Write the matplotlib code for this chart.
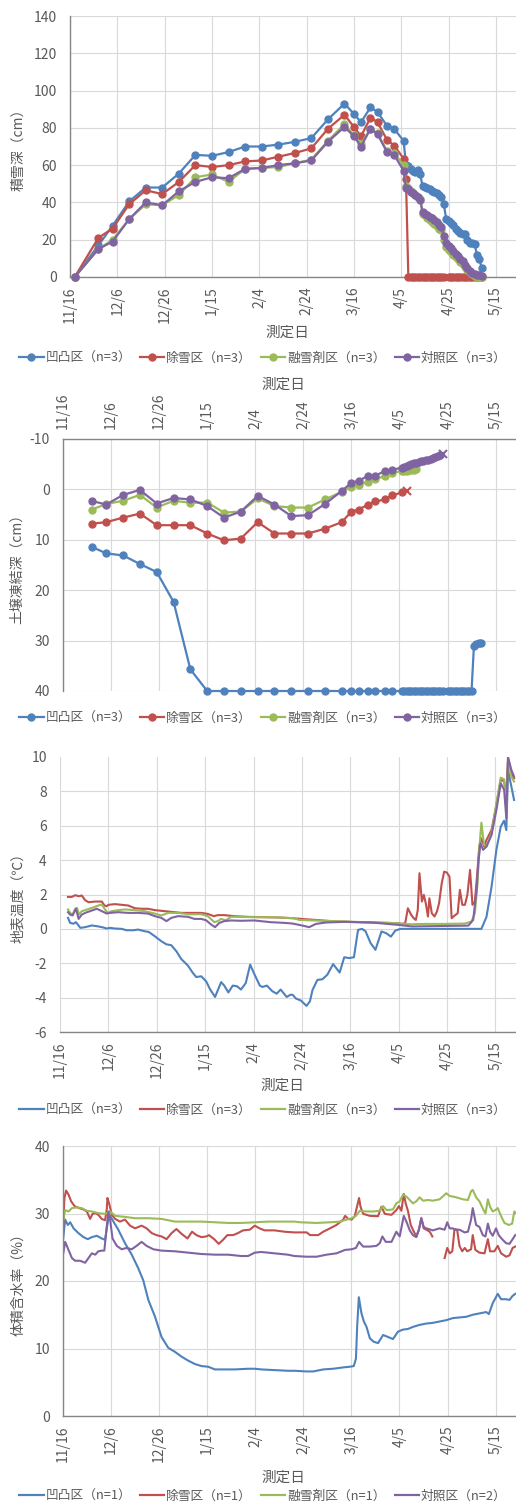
import datetime as dt
import numpy as np
import matplotlib.pyplot as plt
from matplotlib.lines import Line2D

plt.rcParams['font.family'] = ['Noto Sans CJK JP', 'DejaVu Sans']
plt.rcParams['axes.unicode_minus'] = False

# x軸は 11/16 からの経過日数
start = dt.date(2017, 11, 16)
tick_days = [0, 20, 40, 60, 80, 100, 120, 140, 160, 180]
tick_labels = [f"{d.month}/{d.day}" for d in (start + dt.timedelta(days=t) for t in tick_days)]

labels3 = ['凹凸区（n=3）', '除雪区（n=3）', '融雪剤区（n=3）', '対照区（n=3）']
labels4 = ['凹凸区（n=1）', '除雪区（n=1）', '融雪剤区（n=1）', '対照区（n=2）']
colors = ['#4F81BD', '#C0504D', '#9BBB59', '#8064A2']

# ---- 積雪深 ----
weekly_days = [2, 12, 18, 25, 32, 39, 46, 53, 60, 67, 74, 81, 88, 95, 102,
               109, 116, 120, 123, 127, 130, 134, 137, 141]
daily_days = list(range(142, 175))
snow_days = weekly_days + daily_days

snow_ototsu = [0, 17, 27.5, 40.5, 48, 48, 55.5, 65.5, 65, 67, 70, 70, 71, 72.5, 74.5,
               84.5, 93, 87.5, 83, 91, 88.5, 81, 79.5, 73,
               60, 59.5, 58, 57, 56.5, 57.5, 55, 49, 48.5, 48, 47, 46, 45.5, 45, 44, 43,
               39, 31, 30, 29, 28, 26, 24.5, 23.5, 23, 23, 20, 18.5, 18, 17.5, 12, 9.5, 5]
snow_josetsu = [0, 21, 26, 39, 46.5, 44.5, 51, 60, 59, 60, 62, 62.5, 64.5, 66.5, 69,
                79.5, 87, 80.5, 75.5, 85.5, 83, 73.5, 70.5, 63.5,
                52.5] + [0] * 16 + [np.nan] + [0] * 15
snow_yusetsuzai = [0, 15, 20, 31, 39, 38.5, 44, 53.5, 55, 51, 58, 58.5, 59, 61, 63,
                   73, 82, 76, 71.5, 79.5, 77, 67.5, 66.5, 60,
                   49, 48, 46, 45, 44, 43, 42, 34, 33, 31.5, 30.5, 29.5, 28.5, 27.5, 26, 25,
                   20, 16, 14.5, 13.5, 12, 10.5, 9.5, 8, 7, 5.5, 4, 2.5, 1.5, 0.5, 0, 0, 0]
snow_taisho = [0, 15, 19, 31, 40, 38.5, 46, 51, 53.5, 53, 58, 58.5, 60, 61, 62.5,
               72.5, 80.5, 75.5, 70, 79.5, 76.5, 67, 65.5, 57,
               48, 47, 45.5, 45, 44, 43, 41.5, 35, 34, 33, 32, 31.5, 30.5, 29.5, 28, 27,
               22, 18, 16.5, 15.5, 14, 12.5, 11, 9.5, 8.5, 6.5, 5, 3, 2, 1.5, 1, 1, 0.5]

# ---- 土壌凍結深 (最後の点は×) ----
frost_days = weekly_days[1:]
frost_ototsu = [11.4, 12.7, 13.1, 14.8, 16.4, 22.3, 35.7] + [40] * 16 + \
               [40] * 17 + [np.nan] + [40] * 11 + [31.0, 30.6, 30.4, 30.4]
frost_josetsu = [6.8, 6.5, 5.6, 4.8, 7.1, 7.1, 7.1, 8.75, 10.1, 9.75, 6.5, 8.75, 8.75, 8.75,
                 7.8, 6.5, 4.4, 4.0, 3.0, 2.4, 2.0, 1.2, 0.6]
frost_josetsu_end = (143, 0.3)
frost_yusetsuzai = [4.0, 2.9, 2.25, 1.1, 3.6, 2.25, 2.65, 2.6, 4.6, 4.4, 1.8, 3.3, 3.6, 3.6,
                    2.0, 0.5, -0.5, -0.9, -1.5, -2.0, -2.7, -3.3, -3.6,
                    -3.7, -3.7, -3.8, -3.8, -3.9, -4.0]
frost_taisho = [2.3, 3.0, 1.1, 0.1, 2.8, 1.7, 2.0, 3.3, 5.6, 4.4, 1.3, 3.0, 5.3, 5.1,
                2.9, 0.3, -1.3, -1.7, -2.7, -2.7, -3.7, -3.9, -4.3,
                -4.5, -4.7, -4.9, -5.0, -5.2, -5.3, -5.4, -5.6, -5.7, -5.8, -5.9, -6.0,
                -6.2, -6.4, -6.7, -6.9]
frost_taisho_end = (158, -7.1)

# ---- 地表温度 (日, ℃) ----
temp_ototsu = [(3.3, 0.64), (4.2, 0.35), (5.6, 0.3), (6.6, 0.39), (8.4, 0.06), (10.4, 0.1),
               (13.2, 0.2), (15.9, 0.14), (17.9, 0.08), (19.3, 0.02), (20.7, 0.06), (22.7, 0.02),
               (25.5, 0), (27.5, -0.08), (30.3, -0.08), (32.3, -0.04), (35.1, -0.14), (36.7, -0.18),
               (39.2, -0.43), (41.9, -0.72), (44, -0.9), (46, -0.95), (48.1, -1.3), (50.1, -1.75),
               (52.9, -2.14), (54.9, -2.56), (56.3, -2.8), (58.4, -2.76), (60.4, -3.05),
               (62.1, -3.53), (64.1, -3.96), (66.6, -3.1), (67.9, -3.3), (69.6, -3.7),
               (71.4, -3.3), (73.2, -3.34), (74.8, -3.53), (76.8, -3.15), (78.6, -2.08),
               (80.3, -2.62), (82.6, -3.3), (83.7, -3.38), (85.5, -3.3), (87.8, -3.63),
               (89.6, -3.77), (91.2, -3.53), (93.7, -3.96), (95.3, -3.83), (96.2, -3.84),
               (97.5, -4.05), (99.6, -4.17), (101.9, -4.48), (103.3, -4.22), (104.4, -3.55),
               (106.4, -2.97), (108.5, -2.93), (110.5, -2.67), (112.9, -2.05), (115.6, -2.54),
               (117.5, -1.65), (119.5, -1.7), (121.5, -1.65), (123.2, -0.06), (124.9, 0),
               (126.3, -0.14), (128.4, -0.83), (130.4, -1.22), (132.9, -0.15), (134.8, -0.25),
               (136.8, -0.45), (138.6, -0.1), (140.7, 0), (174.2, 0), (176.3, 0.7),
               (178.4, 2.46), (180.4, 4.6), (182.2, 5.95), (183.6, 6.3), (184.5, 5.75),
               (185.2, 9.24), (186.6, 8.27), (187.7, 7.5)]
temp_josetsu = [(3.3, 1.86), (4.9, 1.86), (6.3, 1.96), (7.7, 1.9), (9.0, 1.94), (10.4, 1.67),
                (11.8, 1.55), (14.5, 1.59), (17.3, 1.59), (18.4, 1.36), (19.3, 1.32), (20, 1.4),
                (22.7, 1.44), (25.5, 1.4), (28.2, 1.36), (31, 1.2), (33.7, 1.17), (36.4, 1.17),
                (39.2, 1.09), (41.9, 1.05), (44.7, 1.01), (47.4, 0.97), (50.1, 0.93), (55.6, 0.93),
                (58.4, 0.93), (61.1, 0.87), (63.6, 0.74), (65.2, 0.8), (67.9, 0.8), (72.1, 0.74),
                (77.5, 0.7), (90.7, 0.66), (96.2, 0.62), (101.6, 0.56), (105.8, 0.52),
                (112, 0.45), (120, 0.4), (130, 0.37), (140, 0.33), (141.4, 0.29), (142.7, 0.33),
                (143.8, 1.2), (145.2, 0.81), (146.2, 0.62), (147.1, 0.52), (147.9, 1.1),
                (148.6, 3.24), (149.6, 1.59), (150.4, 1.98), (151.2, 1.49), (152.1, 0.72),
                (152.7, 1.78), (153.7, 0.91), (154.8, 0.72), (155.8, 1.0), (156.7, 1.49),
                (157.8, 2.65), (158.8, 3.33), (159.9, 3.28), (161, 3.04), (161.9, 0.62),
                (163, 0.76), (164.4, 0.91), (165.3, 2.27), (166.3, 1.4), (167.4, 1.4),
                (168.4, 1.98), (169.5, 3.43), (170.5, 1.4), (171.5, 1.59), (172.5, 3.24),
                (173.3, 4.79), (174.2, 5.27), (175.3, 4.79), (176.3, 5.17), (178.4, 5.76),
                (180.4, 7.2), (182.2, 8.7), (183.6, 8.57), (184.5, 7.69), (185.2, 9.92),
                (186.6, 9.05), (187.7, 8.76)]
temp_yusetsuzai = [(3.3, 1.13), (4.2, 0.93), (5.2, 0.83), (6.3, 1.17), (7.0, 1.22), (7.9, 0.83),
                   (9.0, 1.03), (10.4, 1.09), (13.2, 1.22), (15.9, 1.36), (17.3, 1.42),
                   (18.6, 1.13), (19.7, 0.93), (21.4, 1.03), (24.1, 1.09), (26.8, 1.13),
                   (31, 1.09), (35.1, 1.03), (39.2, 0.89), (41.9, 0.78), (44.7, 0.93),
                   (48.8, 0.93), (52.9, 0.85), (58.4, 0.85), (61.1, 0.74), (63.8, 0.39),
                   (65.2, 0.45), (66.6, 0.58), (68.6, 0.5), (70.7, 0.7), (74.8, 0.7),
                   (80.3, 0.68), (88.5, 0.68), (96.7, 0.62), (98.9, 0.52), (107.1, 0.48),
                   (118.1, 0.43), (129, 0.37), (140, 0.33), (141.4, 0.29), (145.5, 0.27),
                   (151, 0.29), (159.2, 0.29), (167.4, 0.31), (170.1, 0.43), (171.5, 0.91),
                   (172.6, 2.65), (173.3, 4.6), (174.2, 6.18), (175.3, 4.88), (176.3, 4.79),
                   (178.4, 5.56), (180.4, 7.3), (182.2, 8.8), (183.6, 8.7), (184.5, 6.9),
                   (185.2, 9.73), (186.6, 8.86), (187.7, 8.57)]
temp_taisho = [(3.3, 0.97), (4.2, 0.83), (5.2, 0.78), (6.6, 1.17), (7.7, 0.58), (9.0, 0.83),
               (10.4, 0.93), (13.2, 1.07), (15.2, 1.17), (17.3, 1.03), (19.3, 0.89),
               (20.7, 0.93), (24.1, 0.97), (28.2, 0.93), (32.3, 0.93), (36.4, 0.89),
               (39.2, 0.74), (41.9, 0.64), (44, 0.45), (46, 0.64), (48.8, 0.74), (52.9, 0.7),
               (55.6, 0.58), (58.4, 0.58), (60.4, 0.5), (62.5, 0.25), (64.1, 0.1), (65.9, 0.35),
               (67.9, 0.45), (70.7, 0.49), (74.8, 0.47), (80.3, 0.49), (83, 0.45), (87.1, 0.39),
               (92.6, 0.35), (96.2, 0.31), (100.3, 0.19), (103, 0.1), (105.8, 0.29),
               (109.9, 0.37), (118.1, 0.41), (129, 0.37), (140, 0.23), (145.5, 0.14),
               (159.2, 0.17), (168.8, 0.19), (170.8, 0.52), (172.2, 2.27), (172.9, 3.82),
               (173.8, 4.98), (174.9, 4.6), (176.3, 4.79), (178.4, 5.47), (180.4, 6.92),
               (182.2, 8.47), (183.6, 8.08), (184.5, 6.43), (185.2, 10.0), (186.6, 9.24),
               (187.7, 8.86)]

# ---- 体積含水率 (日, %) ----
vwc_ototsu = [(0, 26.0), (0.9, 29.1), (2.0, 28.3), (3.0, 28.7), (4.4, 27.8), (6.4, 27.1),
              (8.5, 26.5), (10.3, 26.2), (12.0, 26.5), (14.1, 26.7), (16.1, 26.3), (17.5, 26.1),
              (18.9, 29.3), (19.6, 29.65), (21.0, 28.8), (23.0, 27.6), (25.8, 25.6), (28.6, 23.9),
              (31.3, 21.9), (33.4, 20.1), (35.5, 17.2), (38.3, 14.7), (41.0, 11.7), (43.8, 10.1),
              (46.6, 9.5), (49.3, 8.8), (52.1, 8.2), (54.9, 7.7), (57.6, 7.4), (60.4, 7.3),
              (63.2, 6.9), (65.9, 6.9), (71.5, 6.9), (77.0, 7.0), (79.8, 7.0), (82.5, 6.9),
              (88.0, 6.8), (93.6, 6.7), (96.3, 6.7), (101.4, 6.6), (104.1, 6.6), (108.3, 6.9),
              (112.4, 7.0), (116.6, 7.2), (119.4, 7.3), (121.0, 7.4), (121.9, 8.5),
              (122.4, 13.2), (123.1, 17.6), (124.2, 15.2), (125.2, 14.0), (126.3, 13.2),
              (127.7, 11.5), (129.3, 11.0), (131.1, 10.8), (133.2, 12.0), (135.3, 11.7),
              (137.3, 11.4), (139.4, 12.5), (141.5, 12.8), (143.6, 12.9), (145.6, 13.2),
              (148.4, 13.5), (151.2, 13.7), (153.9, 13.8), (156.7, 14.0), (159.5, 14.2),
              (162.2, 14.5), (165.0, 14.6), (167.8, 14.7), (170.5, 15.0), (173.3, 15.2),
              (176.1, 15.4), (177.2, 15.1), (178.8, 16.7), (180.9, 18.1), (182.3, 17.3),
              (184.4, 17.3), (185.8, 17.2), (187.1, 17.8), (188.2, 18.1)]
vwc_josetsu = [(0, 27.6), (0.6, 32.3), (1.3, 33.4), (2.3, 32.8), (3.4, 31.8), (4.8, 31.1),
               (6.7, 30.8), (8.5, 30.6), (9.9, 30.3), (11.3, 29.2), (12.3, 29.95), (13.6, 30.05),
               (14.7, 29.8), (16.1, 29.2), (17.5, 29.0), (18.2, 30.6), (18.5, 32.3), (19.2, 31.5),
               (20.3, 29.8), (21.7, 29.2), (23.7, 28.8), (25.8, 29.1), (27.9, 28.2), (30.0, 27.8),
               (32.7, 28.2), (34.8, 27.8), (36.9, 27.1), (38.9, 26.8), (41.0, 26.6), (43.1, 26.2),
               (45.2, 27.1), (47.2, 27.7), (49.3, 27.0), (51.8, 26.3), (53.7, 27.3), (55.5, 26.8),
               (57.6, 26.5), (59.7, 26.6), (60.7, 26.8), (62.9, 26.2), (64.8, 25.5), (66.6, 26.1),
               (68.4, 26.8), (70.8, 26.8), (72.8, 27.1), (74.9, 27.5), (77.7, 27.6), (79.8, 28.2),
               (81.8, 27.8), (83.9, 27.5), (88.0, 27.5), (92.2, 27.3), (96.3, 27.2),
               (101.4, 27.2), (102.8, 26.8), (106.2, 26.8), (108.3, 27.3), (111.1, 27.8),
               (113.8, 28.3), (116.6, 29.1), (117.4, 29.65), (118.7, 29.2), (120.1, 29.1),
               (121.4, 29.6), (122.4, 31.1), (123.2, 32.3), (123.8, 31.0), (124.9, 29.95),
               (127.7, 29.65), (131.1, 29.6), (132.5, 31.0), (133.9, 29.95), (136.7, 29.8),
               (138.7, 30.5), (139.8, 31.1), (140.8, 30.4), (141.8, 32.9), (142.6, 31.5),
               (143.6, 30.3), (144.7, 28.3), (145.6, 27.6), (147.0, 26.6), (148.1, 27.6),
               (149.1, 29.3), (150.1, 27.8), (151.2, 27.6), (152.6, 27.3), (153.7, 26.6),
               (156.0, np.nan),
               (158.8, 23.4), (159.9, 24.9), (160.9, 24.1), (162.0, 24.4), (162.9, 27.7),
               (164.0, 27.6), (165.0, 25.2), (166.1, 24.4), (167.2, 24.9), (168.2, 24.4),
               (169.8, 24.7), (170.5, 26.8), (171.6, 24.6), (173.3, 24.2), (175.4, 24.1),
               (176.8, 26.2), (177.7, 24.4), (179.5, 24.4), (180.9, 25.2), (182.3, 24.1),
               (184.4, 23.6), (185.8, 23.8), (187.1, 24.9), (188.2, 25.1)]
vwc_yusetsuzai = [(0, 28.8), (0.9, 30.5), (2.3, 30.3), (3.7, 30.8), (5.8, 30.9), (7.8, 30.8),
                  (9.9, 30.4), (12.0, 30.3), (14.7, 30.05), (17.5, 29.95), (19.6, 30.3),
                  (21.7, 29.65), (25.8, 29.5), (30.0, 29.3), (35.5, 29.3), (41.0, 29.2),
                  (46.6, 28.8), (52.1, 28.8), (57.6, 28.8), (63.2, 28.7), (68.7, 28.6),
                  (74.2, 28.6), (79.8, 28.7), (85.3, 28.8), (96.3, 28.8), (98.6, 28.7),
                  (105.5, 28.6), (111.1, 28.7), (115.2, 28.8), (118.0, 29.1), (120.1, 29.3),
                  (121.9, 29.65), (123.5, 30.4), (126.3, 30.3), (129.0, 30.3), (131.8, 30.4),
                  (133.2, 31.1), (134.6, 30.5), (137.3, 30.6), (138.7, 31.5), (140.1, 31.8),
                  (141.5, 32.8), (142.9, 32.5), (144.3, 32.0), (145.6, 31.5), (147.0, 31.8),
                  (148.4, 32.4), (149.8, 31.9), (151.9, 32.0), (153.9, 31.9), (156.7, 32.1),
                  (159.5, 33.0), (160.9, 32.6), (163.6, 32.4), (166.4, 32.1), (168.5, 32.0),
                  (169.8, 33.3), (170.5, 33.5), (171.9, 32.4), (173.3, 31.8), (175.0, 30.5),
                  (175.8, 30.0), (176.8, 32.1), (177.7, 31.0), (178.8, 30.3), (179.9, 30.5),
                  (180.9, 30.8), (182.3, 29.6), (183.7, 28.6), (185.5, 28.3), (186.9, 28.5),
                  (187.8, 30.3), (188.2, 30.1)]
vwc_taisho = [(0, 23.9), (0.9, 25.8), (2.3, 24.6), (3.7, 23.4), (5.0, 23.0), (7.1, 23.0),
              (9.2, 22.7), (10.6, 23.4), (12.0, 24.1), (13.4, 23.9), (14.7, 24.4), (16.1, 24.5),
              (17.2, 24.5), (18.2, 28.1), (18.9, 30.3), (19.6, 29.1), (20.6, 26.3), (22.4, 25.2),
              (24.4, 24.7), (26.5, 24.9), (28.6, 24.7), (30.6, 25.2), (32.7, 25.8), (34.8, 25.2),
              (37.6, 24.7), (41.0, 24.5), (46.6, 24.4), (52.1, 24.2), (57.6, 24.0), (63.2, 23.9),
              (68.7, 23.9), (74.2, 23.7), (77.0, 23.7), (79.8, 24.2), (82.5, 24.3), (88.0, 24.1),
              (93.6, 23.9), (96.3, 23.7), (101.4, 23.6), (105.5, 23.6), (109.7, 23.9),
              (113.8, 24.1), (117.3, 24.6), (120.1, 24.7), (121.9, 24.9), (123.2, 25.8),
              (124.9, 25.1), (127.7, 25.1), (130.4, 25.2), (131.8, 25.6), (132.9, 26.6),
              (134.3, 25.8), (136.7, 25.8), (138.7, 27.3), (140.1, 26.6), (141.8, 29.65),
              (142.9, 28.8), (144.3, 27.5), (145.6, 26.8), (147.0, 26.5), (148.1, 27.6),
              (149.1, 29.3), (150.1, 28.0), (151.2, 27.8), (153.9, 27.5), (156.7, 27.8),
              (158.8, 27.6), (159.9, 28.7), (160.9, 27.8), (162.2, 27.8), (163.3, 27.6),
              (165.0, 27.6), (167.1, 27.2), (168.5, 27.3), (169.8, 29.1), (170.5, 30.8),
              (171.9, 28.3), (173.3, 28.0), (174.7, 26.8), (175.8, 26.6), (176.8, 28.5),
              (177.7, 27.3), (178.8, 26.7), (180.2, 27.8), (181.3, 26.8), (182.7, 26.2),
              (184.4, 25.6), (185.8, 25.5), (187.1, 26.2), (188.2, 26.8)]

# ---- 図 ----
W, H = 516, 1504
fig = plt.figure(figsize=(W / 100, H / 100), dpi=100)
GRAY = '#595959'


def px_axes(left, top, right, bottom):
    return fig.add_axes([left / W, 1 - bottom / H, (right - left) / W, (bottom - top) / H])


def style(ax, spines, ylim, yticks, xlabel_y, ylabel, ylabel_x):
    ax.set_xlim(0, 188.5)
    ax.set_ylim(*ylim)
    ax.set_yticks(yticks)
    ax.set_xticks(tick_days)
    ax.set_xticklabels(tick_labels, rotation=90)
    for s in ['left', 'right', 'top', 'bottom']:
        ax.spines[s].set_visible(s in spines)
        ax.spines[s].set_color('#868686')
        ax.spines[s].set_linewidth(1.0)
    ax.grid(True, color='#D9D9D9', lw=0.8)
    ax.set_axisbelow(True)
    ax.tick_params(length=0, colors=GRAY, labelsize=10)
    ax.tick_params(axis='y', pad=9.5)
    ax.tick_params(axis='x', pad=7)
    ax.text(0.487, xlabel_y, '測定日', transform=ax.transAxes, ha='center', va='center',
            fontsize=10.5, color=GRAY)
    ax.text(ylabel_x, 0.5, ylabel, transform=ax.transAxes, ha='center', va='center',
            rotation=90, fontsize=10, color=GRAY)


def legend(y_px, labels, marker):
    handles = [Line2D([], [], color=c, lw=1.6, marker=marker, ms=5) for c in colors]
    fig.legend(handles, labels, loc='center', bbox_to_anchor=(263 / W, 1 - y_px / H),
               ncol=4, frameon=False, fontsize=9.2, handlelength=1.9, handletextpad=0.15,
               columnspacing=0.7, labelcolor=GRAY, borderpad=0, borderaxespad=0)


# 1) 積雪深
ax1 = px_axes(70, 16, 516, 277)
for vals, c in zip([snow_ototsu, snow_josetsu, snow_yusetsuzai, snow_taisho], colors):
    ax1.plot(snow_days, vals, '-o', color=c, lw=1.6, ms=5, clip_on=False, zorder=3)
style(ax1, ['left', 'bottom'], (0, 140), range(0, 141, 20), -0.215, '積雪深（cm）', -0.117)
legend(358, labels3, 'o')

# 2) 土壌凍結深
ax2 = px_axes(63, 439, 516, 691)
ax2.plot(frost_days + daily_days, frost_ototsu, '-o', color=colors[0], lw=1.6, ms=5,
         clip_on=False, zorder=3)
d = frost_days + [frost_josetsu_end[0]]
v = frost_josetsu + [frost_josetsu_end[1]]
ax2.plot(d, v, '-o', color=colors[1], lw=1.6, ms=5, markevery=list(range(len(d) - 1)),
         clip_on=False, zorder=3)
ax2.plot(*frost_josetsu_end, 'x', color=colors[1], ms=6, mew=1.5, zorder=3)
ax2.plot(frost_days + daily_days[:6], frost_yusetsuzai, '-o', color=colors[2], lw=1.6,
         ms=5, clip_on=False, zorder=3)
d = frost_days + daily_days[:16] + [frost_taisho_end[0]]
v = frost_taisho + [frost_taisho_end[1]]
ax2.plot(d, v, '-o', color=colors[3], lw=1.6, ms=5, markevery=list(range(len(d) - 1)),
         clip_on=False, zorder=3)
ax2.plot(*frost_taisho_end, 'x', color=colors[3], ms=6, mew=1.5, zorder=3)
style(ax2, ['left', 'top'], (40, -10), range(-10, 41, 10), 1.214, '土壌凍結深（cm）', -0.1015)
ax2.xaxis.tick_top()
ax2.tick_params(axis='x', pad=7, length=0)
legend(718, labels3, 'o')

# 3) 地表温度
ax3 = px_axes(60, 757, 516, 1032)
for series, c in zip([temp_ototsu, temp_josetsu, temp_yusetsuzai, temp_taisho], colors):
    d, v = zip(*series)
    ax3.plot(d, v, '-', color=c, lw=1.5)
style(ax3, ['bottom'], (-6, 10), range(-6, 11, 2), -0.196, '地表温度（℃）', -0.092)
ax3.get_ygridlines()[-1].set_visible(False)
legend(1110, labels3, None)

# 4) 体積含水率
ax4 = px_axes(63, 1146, 516, 1416)
for series, c in zip([vwc_ototsu, vwc_josetsu, vwc_yusetsuzai, vwc_taisho], colors):
    d, v = zip(*series)
    ax4.plot(d, v, '-', color=c, lw=1.5)
style(ax4, ['left', 'bottom'], (0, 40), range(0, 41, 10), -0.23, '体積含水率（%）', -0.099)
legend(1496, labels4, None)

fig.savefig('out.png', dpi=100)
